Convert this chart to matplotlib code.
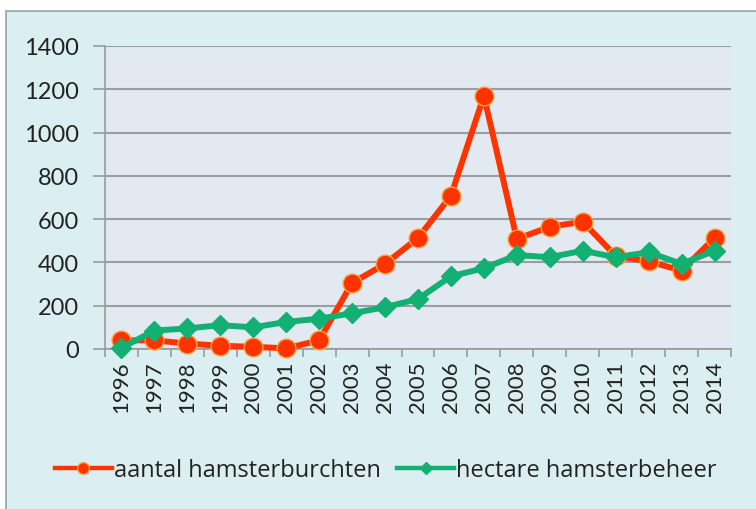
import matplotlib
matplotlib.use("Agg")
import matplotlib.pyplot as plt
from matplotlib.patches import Rectangle
import numpy as np

years = [str(y) for y in range(1996, 2015)]
burchten = [40, 40, 25, 15, 10, 3, 40, 305, 393, 513, 708, 1170, 508, 565, 588, 430, 405, 362, 513]
hectare = [5, 85, 95, 110, 100, 125, 140, 165, 193, 231, 336, 373, 434, 424, 454, 424, 447, 393, 454]
yticks = [0, 200, 400, 600, 800, 1000, 1200, 1400]

plt.rcParams['font.family'] = ['Lato', 'DejaVu Sans']

fig = plt.figure(figsize=(7.56, 5.10), dpi=100)
fig.patch.set_facecolor('white')
# outer chart area with border
bg = Rectangle((6/756, -0.01), 1.0, 1 - 12/510 + 0.01, transform=fig.transFigure,
               facecolor='#dbeff2', edgecolor='#9aa3a8', linewidth=1.2, zorder=-10)
fig.patches.append(bg)

ax = fig.add_axes([105/756, 1 - 350/510, (731 - 105)/756, (350 - 47)/510])
ax.set_zorder(1)
ax.set_facecolor('#e3e9f1')
x = np.arange(len(years))
ax.plot(x, burchten, color='#ff3300', linewidth=4.3, marker='o', markersize=13.5,
        markerfacecolor='#ff3300', markeredgecolor='#f7a640', markeredgewidth=1.0,
        label='aantal hamsterburchten', zorder=3, clip_on=False)
ax.plot(x, hectare, color='#12b072', linewidth=4.3, marker='D', markersize=10.5,
        markerfacecolor='#12b072', markeredgecolor='#12b072',
        label='hectare hamsterbeheer', zorder=4, clip_on=False)

ax.set_xlim(-0.5, len(years) - 0.5)
ax.set_ylim(0, 1400)
ax.set_yticks(yticks)
ax.set_yticklabels([str(v) for v in yticks], fontsize=17, color='#222222')
ax.set_xticks(x)
ax.set_xticklabels(years, rotation=90, fontsize=16, color='#222222')
ax.set_xticks(np.arange(-0.5, len(years), 1), minor=True)
ax.tick_params(axis='x', which='major', length=0, pad=8)
ax.tick_params(axis='x', which='minor', length=6, color='#9a9a9a', width=1.2, direction='out')
ax.tick_params(axis='y', length=9, color='#9a9a9a', width=1.2, pad=10)
ax.grid(axis='y', color='#9a9ea3', linewidth=1.5)
ax.set_axisbelow(True)
for s in ['top', 'right']:
    ax.spines[s].set_visible(False)
ax.spines['left'].set_color('#9a9a9a')
ax.spines['bottom'].set_color('#9a9a9a')
ax.spines['left'].set_linewidth(1.2)
ax.spines['bottom'].set_linewidth(1.2)

leg = fig.legend(loc='center', bbox_to_anchor=(386/756, 1 - 471/510), ncol=2, frameon=False,
                 prop={'family': ['Open Sans', 'DejaVu Sans'], 'size': 17},
                 handlelength=2.4, handletextpad=0.1, columnspacing=0.7)
for t in leg.get_texts():
    t.set_color('#222222')
for h in leg.legend_handles:
    h.set_linewidth(3.2)
    h.set_markersize(8.5 if h.get_marker() == 'o' else 6.5)

fig.savefig('out.png', dpi=100, facecolor=fig.get_facecolor())
